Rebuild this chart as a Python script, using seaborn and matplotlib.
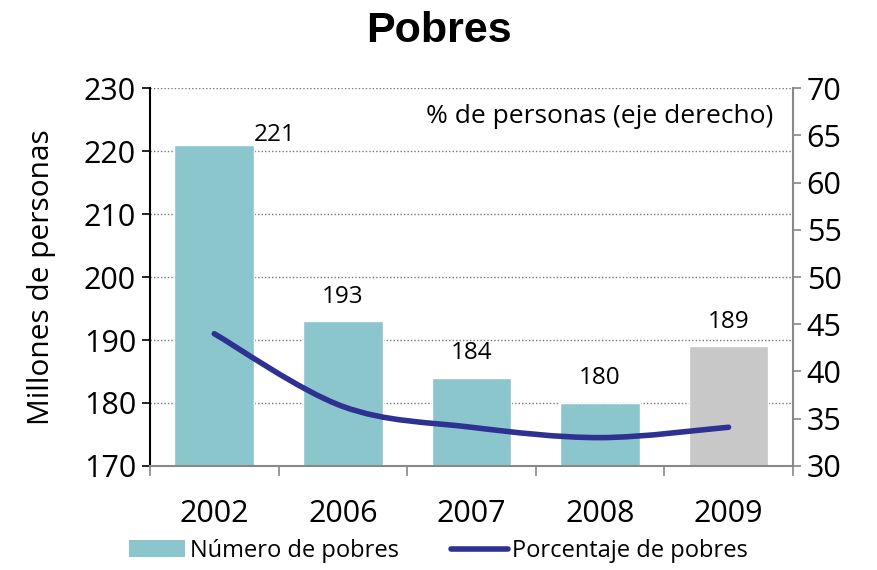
import numpy as np
import pandas as pd
import matplotlib
matplotlib.use("Agg")
import matplotlib.pyplot as plt
from matplotlib.path import Path
from matplotlib.patches import PathPatch, Patch
from matplotlib.lines import Line2D
import seaborn as sns

# data
years = ["2002", "2006", "2007", "2008", "2009"]
pobres = [221, 193, 184, 180, 189]
porcentaje = [44.0, 36.3, 34.1, 33.0, 34.1]
left_ticks = [170, 180, 190, 200, 210, 220, 230]
right_ticks = [30, 35, 40, 45, 50, 55, 60, 65, 70]

teal = "#8BC6CD"
gris = "#C8C8C8"
azul = "#2E3192"

sns.set_theme(style="white")
plt.rcParams["font.family"] = ["Open Sans", "DejaVu Sans"]
plt.rcParams["text.color"] = "black"
plt.rcParams["axes.labelcolor"] = "black"
plt.rcParams["xtick.color"] = "black"
plt.rcParams["ytick.color"] = "black"

df = pd.DataFrame({"anio": years, "pobres": pobres})

fig = plt.figure(figsize=(8.77, 5.70), dpi=100)
ax = fig.add_axes([0.171, 0.1825, 0.733, 0.663])

sns.barplot(data=df, x="anio", y="pobres", hue="anio",
            palette=[teal] * 4 + [gris], width=0.62, legend=False,
            saturation=1, ax=ax)
ax.set_ylim(170, 230)
ax.set_xlim(-0.5, 4.5)
ax.set_yticks(left_ticks)
ax.tick_params(axis="y", labelsize=22, length=6, width=1.2, color="black",
               labelcolor="black", left=True, pad=4)
ax.set_ylabel("Millones de personas", fontsize=21.5, labelpad=20)
ax.set_xlabel("")
ax.tick_params(axis="x", which="major", labelsize=22, length=0, pad=24,
               labelcolor="black")
ax.set_xticks(np.arange(-0.5, 5, 1), minor=True)
ax.tick_params(axis="x", which="minor", length=7, width=1.2, color="#888888",
               bottom=True)

for y in left_ticks[1:]:
    ax.axhline(y, color="#777777", ls=(0, (1, 1.5)), lw=1, zorder=0)

ax.spines["top"].set_visible(False)
ax.spines["right"].set_visible(False)
ax.spines["left"].set_color("black")
ax.spines["left"].set_linewidth(1.5)
ax.spines["bottom"].set_color("#888888")
ax.spines["bottom"].set_linewidth(1.5)

# bar labels
for i, v in enumerate(pobres):
    if i == 0:
        ax.text(i + 0.31, v - 0.3, str(v), ha="left", va="bottom", fontsize=17.5)
    else:
        ax.text(i, v + 2.0, str(v), ha="center", va="bottom", fontsize=17.5)

# right axis
ax2 = ax.twinx()
ax2.set_ylim(30, 70)
ax2.set_yticks(right_ticks)
ax2.tick_params(axis="y", labelsize=22, length=6, width=1.2, color="#888888",
                labelcolor="black", right=True, pad=4)
for s in ["top", "left", "bottom"]:
    ax2.spines[s].set_visible(False)
ax2.spines["right"].set_color("#888888")
ax2.spines["right"].set_linewidth(1.5)

# smoothed line (bezier through the data points)
xs = np.arange(len(porcentaje), dtype=float)
ys = np.array(porcentaje)
verts = [(xs[0], ys[0])]
codes = [Path.MOVETO]
for i in range(len(xs) - 1):
    p0 = np.array([xs[max(i - 1, 0)], ys[max(i - 1, 0)]])
    p1 = np.array([xs[i], ys[i]])
    p2 = np.array([xs[i + 1], ys[i + 1]])
    p3 = np.array([xs[min(i + 2, len(xs) - 1)], ys[min(i + 2, len(xs) - 1)]])
    c1 = p1 + (p2 - p0) / 6
    c2 = p2 - (p3 - p1) / 6
    verts += [tuple(c1), tuple(c2), tuple(p2)]
    codes += [Path.CURVE4] * 3
ax2.add_patch(PathPatch(Path(verts, codes), fill=False, edgecolor=azul,
                        lw=4, capstyle="round", zorder=3))

ax2.text(0.97, 0.925, "% de personas (eje derecho)", transform=ax.transAxes,
         ha="right", va="center", fontsize=19)

fig.suptitle("Pobres", fontsize=31, fontweight="bold", y=0.98,
             family="Liberation Sans", color="black")

handles = [Patch(facecolor=teal, edgecolor="none"),
           Line2D([0], [0], color=azul, lw=4)]
fig.legend(handles, ["Número de pobres", "Porcentaje de pobres"],
           loc="lower center", bbox_to_anchor=(0.5, -0.025), ncol=2,
           frameon=False, fontsize=17, handlelength=2.4, columnspacing=2.2,
           handletextpad=0.2)

fig.savefig("out.png", dpi=100)
